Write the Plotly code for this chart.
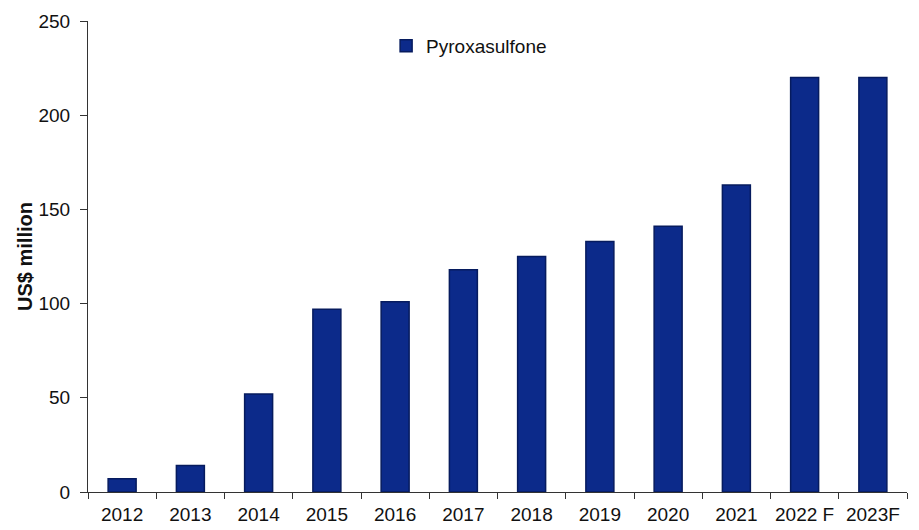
import plotly.graph_objects as go

years = ["2012", "2013", "2014", "2015", "2016", "2017", "2018", "2019", "2020", "2021", "2022 F", "2023F"]
values = [7, 14, 52, 97, 101, 118, 125, 133, 141, 163, 220, 220]
y_ticks = [0, 50, 100, 150, 200, 250]

fig = go.Figure()
fig.add_trace(go.Bar(
    x=years, y=values, name="Pyroxasulfone",
    marker=dict(color="#0c2a8a", line=dict(color="#061b5e", width=1.5)),
    width=0.41,
))

fig.update_layout(
    width=919, height=530,
    margin=dict(l=88, r=12, t=21, b=38),
    paper_bgcolor="white", plot_bgcolor="white",
    font=dict(family="Liberation Sans, Arial, sans-serif", size=19, color="#111111"),
    showlegend=True,
    legend=dict(x=0.364, y=0.947, xanchor="left", yanchor="middle",
                bgcolor="rgba(0,0,0,0)", font=dict(size=19), itemwidth=30),
    bargap=0.59,
)
fig.update_xaxes(
    type="category", showline=True, linecolor="#333333", linewidth=1,
    ticks="outside", ticklen=6, tickcolor="#333333", tickson="boundaries",
    showgrid=False, zeroline=False, ticklabelstandoff=5, automargin=False,
)
fig.update_yaxes(
    range=[0, 250], tickvals=y_ticks, showline=True, linecolor="#333333", linewidth=1,
    ticks="outside", ticklen=7, tickcolor="#333333", showgrid=False, zeroline=False,
    ticklabelstandoff=6,
    title=dict(text="<b>US$ million</b>", font=dict(size=20), standoff=0),
)

fig.write_html("out.html")
